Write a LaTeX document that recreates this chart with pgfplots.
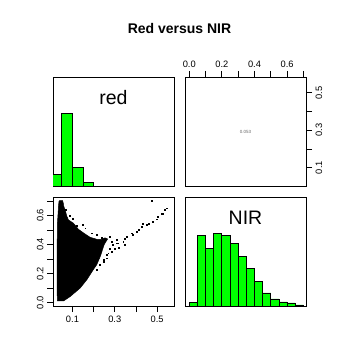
\documentclass[border=0pt]{standalone}
\usepackage{fontspec}
\setmainfont{Liberation Sans}
\usepackage{pgfplots}
\pgfplotsset{compat=1.18}
\definecolor{rgreen}{RGB}{0,255,0}
\begin{document}
\begin{tikzpicture}
\useasboundingbox (0bp,0bp) rectangle (360bp,360bp);
\pgfplotsset{
 panel/.style={scale only axis, width=121bp, height=109bp, anchor=south west,
   axis line style={line width=0.8pt}, tick style={line width=0.8pt, black},
   tick align=outside, major tick length=6bp, minor tick length=6bp,
   ticklabel style={font=\fontsize{9.3bp}{11bp}\selectfont},
   /pgf/number format/assume math mode=true, clip=true},
}
% top-left: red histogram
\begin{axis}[panel, at={(53bp,174bp)}, xmin=0.008, xmax=0.580, ymin=0, ymax=1.5, xtick=\empty, ytick=\empty]
\addplot[ybar interval, fill=rgreen, draw=black, line width=0.8pt] coordinates {(0,0.157) (0.05,1) (0.1,0.26) (0.15,0.047) (0.2,0)};
\node[anchor=base, font=\fontsize{19.5bp}{20bp}\selectfont] at (rel axis cs:0.5,0.752) {red};
\end{axis}
% top-right: correlation
\begin{axis}[panel, at={(185bp,174bp)}, xmin=-0.026, xmax=0.716, ymin=0.002, ymax=0.584,
  xtick={0,0.2,0.4,0.6}, xticklabels={0.0,0.2,0.4,0.6}, minor xtick={0.1,0.3,0.5,0.7},
  ytick={0.1,0.3,0.5}, yticklabels={0.1,0.3,0.5}, minor ytick={0.2,0.4},
  xtick pos=right, xticklabel pos=right, ytick pos=right, yticklabel pos=right,
  yticklabel style={rotate=90, anchor=north}]
\node[font=\fontsize{4.5bp}{5bp}\selectfont, text=black!60] at (rel axis cs:0.5,0.5) {0.053};
\end{axis}
% bottom-left: scatter
\begin{axis}[panel, at={(53bp,54bp)}, xmin=0.008, xmax=0.580, ymin=-0.023, ymax=0.727,
  xtick={0.1,0.3,0.5}, xticklabels={0.1,0.3,0.5}, minor xtick={0.2,0.4},
  ytick={0,0.2,0.4,0.6}, yticklabels={0.0,0.2,0.4,0.6}, minor ytick={0.1,0.3,0.5,0.7},
  xtick pos=left, xticklabel pos=left, ytick pos=left, yticklabel pos=left,
  yticklabel style={rotate=90, anchor=south}]
\addplot[fill=black, draw=black, line width=0.5pt] coordinates {
(0.036,0.695) (0.039,0.702) (0.052,0.703) (0.056,0.690) (0.058,0.668) (0.062,0.650) (0.066,0.638)
(0.072,0.600) (0.081,0.569) (0.095,0.556) (0.105,0.546) (0.128,0.505) (0.152,0.480) (0.183,0.450) (0.215,0.436)
(0.238,0.436) (0.254,0.446) (0.266,0.438) (0.250,0.400) (0.232,0.320) (0.215,0.262)
(0.199,0.228) (0.168,0.158) (0.136,0.100) (0.089,0.042) (0.058,0.012) (0.029,0.012)
(0.027,0.087) (0.027,0.317) (0.029,0.546) (0.034,0.661)} -- cycle;
\addplot[only marks, mark=square*, mark size=0.45bp, black] coordinates {
(0.474,0.700) (0.544,0.650) (0.536,0.640) (0.528,0.615) (0.520,0.610) (0.497,0.574)
(0.480,0.560) (0.450,0.535) (0.434,0.546) (0.428,0.525) (0.403,0.489) (0.380,0.478)
(0.383,0.465) (0.348,0.443) (0.340,0.420) (0.345,0.400) (0.309,0.409) (0.301,0.374)
(0.285,0.351) (0.262,0.328) (0.246,0.294) (0.230,0.259) (0.215,0.225) (0.149,0.535)
(0.160,0.512) (0.191,0.478) (0.215,0.466) (0.277,0.454) (0.285,0.420) (0.309,0.431)
(0.316,0.409) (0.277,0.374) (0.269,0.340) (0.262,0.306) (0.246,0.282) (0.070,0.640)
(0.085,0.600) (0.120,0.530) (0.100,0.580) (0.240,0.450) (0.290,0.400) (0.320,0.380)
(0.355,0.455) (0.415,0.500) (0.460,0.545) (0.505,0.590)};
\end{axis}
% bottom-right: NIR histogram
\begin{axis}[panel, at={(185bp,54bp)}, xmin=-0.026, xmax=0.716, ymin=0, ymax=1.5, xtick=\empty, ytick=\empty]
\addplot[ybar interval, fill=rgreen, draw=black, line width=0.8pt] coordinates {
(0,0.05) (0.05,0.967) (0.1,0.79) (0.15,1) (0.2,0.967) (0.25,0.855) (0.3,0.68)
(0.35,0.514) (0.4,0.333) (0.45,0.18) (0.5,0.097) (0.55,0.056) (0.6,0.042) (0.65,0.014) (0.7,0)};
\node[anchor=base, font=\fontsize{19.5bp}{20bp}\selectfont] at (rel axis cs:0.5,0.752) {NIR};
\end{axis}
\node[anchor=base, font=\bfseries\fontsize{14bp}{16bp}\selectfont] at (179.5bp,326bp) {Red versus NIR};
\end{tikzpicture}
\end{document}
